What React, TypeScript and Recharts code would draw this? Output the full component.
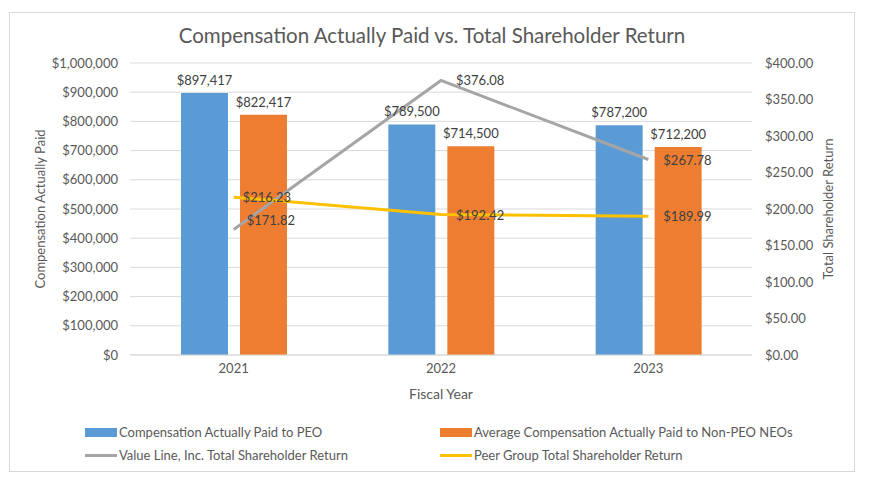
import React from "react";
import {
  ComposedChart,
  Bar,
  Line,
  XAxis,
  YAxis,
  CartesianGrid,
  Legend,
  LabelList,
} from "recharts";

const years = ["2021", "2022", "2023"];
const peoPaid = [897417, 789500, 787200];
const neoPaid = [822417, 714500, 712200];
const valueLineTsr = [171.82, 376.08, 267.78];
const peerTsr = [216.23, 192.42, 189.99];

const leftTicks = [0, 100000, 200000, 300000, 400000, 500000, 600000, 700000, 800000, 900000, 1000000];
const rightTicks = [0, 50, 100, 150, 200, 250, 300, 350, 400];

const data = years.map((y, i) => ({
  year: y,
  peo: peoPaid[i],
  neo: neoPaid[i],
  vl: valueLineTsr[i],
  peer: peerTsr[i],
}));

const FONT = "Lato, 'Liberation Sans', sans-serif";
const AXIS_TEXT = "#595959";
const LABEL_TEXT = "#404040";

const money = (v: number) => "$" + v.toLocaleString("en-US");
const money2 = (v: number) => "$" + v.toFixed(2);

const legendItems = [
  { name: "Compensation Actually Paid to PEO", color: "#5B9BD5", kind: "bar" },
  { name: "Average Compensation Actually Paid to Non-PEO NEOs", color: "#ED7D31", kind: "bar" },
  { name: "Value Line, Inc. Total Shareholder Return", color: "#A5A5A5", kind: "line" },
  { name: "Peer Group Total Shareholder Return", color: "#FFC000", kind: "line" },
];

function LegendBox() {
  return (
    <div style={{ position: "relative", width: 872, height: 50, fontFamily: FONT }}>
      {legendItems.map((it, i) => {
        const left = i % 2 === 0 ? 85 : 440;
        const top = i < 2 ? 0 : 23;
        return (
          <div
            key={it.name}
            style={{
              position: "absolute",
              left,
              top,
              height: 18,
              display: "flex",
              alignItems: "center",
              fontSize: 13,
              color: AXIS_TEXT,
              whiteSpace: "nowrap",
            }}
          >
            <span
              style={{
                display: "inline-block",
                width: 32,
                height: it.kind === "bar" ? 9 : 3,
                background: it.color,
                marginRight: 2,
              }}
            />
            {it.name}
          </div>
        );
      })}
    </div>
  );
}

// label placement tweaks to copy the Excel data labels (right of the point)
function makeLineLabel(dxs: number[], dys: number[]) {
  return (props: any) => {
    const { x, y, value, index } = props;
    return (
      <text
        x={x + (dxs[index] ?? 14)}
        y={y + (dys[index] ?? 0)}
        dy="0.35em"
        fill={LABEL_TEXT}
        fontSize={13}
        fontFamily={FONT}
      >
        {money2(value)}
      </text>
    );
  };
}

export default function App() {
  return (
    <div
      style={{
        position: "absolute",
        left: 0,
        top: 0,
        width: 872,
        height: 485,
        background: "#fff",
      }}
    >
      <div
        style={{
          position: "absolute",
          left: 9,
          top: 12,
          width: 846,
          height: 460,
          border: "1px solid #d9d9d9",
          boxSizing: "border-box",
        }}
      />
      <div
        style={{
          position: "absolute",
          left: 0,
          top: 23,
          width: 864,
          textAlign: "center",
          fontFamily: FONT,
          fontSize: 20.5,
          color: AXIS_TEXT,
        }}
      >
        Compensation Actually Paid vs. Total Shareholder Return
      </div>
      <ComposedChart
        width={872}
        height={485}
        data={data}
        margin={{ top: 63, right: 20, bottom: 86, left: 10 }}
        barGap={12}
        style={{ position: "absolute", left: 0, top: 0, fontFamily: FONT }}
      >
        <CartesianGrid vertical={false} stroke="#d9d9d9" yAxisId="l" />
        <XAxis
          dataKey="year"
          tickLine={false}
          axisLine={{ stroke: "#d9d9d9" }}
          tick={{ fill: AXIS_TEXT, fontSize: 13 }}
          tickSize={0}
          tickMargin={9}
          height={44}
          label={{
            value: "Fiscal Year",
            position: "insideBottom",
            offset: 0,
            fill: AXIS_TEXT,
            fontSize: 14,
          }}
        />
        <YAxis
          yAxisId="l"
          width={120}
          domain={[0, 1000000]}
          ticks={leftTicks}
          tickFormatter={money}
          axisLine={false}
          tickLine={false}
          tickSize={0}
          tickMargin={12}
          tick={{ fill: AXIS_TEXT, fontSize: 13 }}
          label={{
            value: "Compensation Actually Paid",
            angle: -90,
            position: "insideLeft",
            offset: 30,
            fill: AXIS_TEXT,
            fontSize: 13,
            style: { textAnchor: "middle" },
          }}
        />
        <YAxis
          yAxisId="r"
          orientation="right"
          width={100}
          domain={[0, 400]}
          ticks={rightTicks}
          tickFormatter={money2}
          axisLine={false}
          tickLine={false}
          tickSize={0}
          tickMargin={13}
          tick={{ fill: AXIS_TEXT, fontSize: 13, textAnchor: "start" }}
          label={{
            value: "Total Shareholder Return",
            angle: -90,
            position: "insideRight",
            offset: 24,
            fill: AXIS_TEXT,
            fontSize: 13,
            style: { textAnchor: "middle" },
          }}
        />
        <Bar yAxisId="l" dataKey="peo" fill="#5B9BD5" barSize={47} isAnimationActive={false}>
          <LabelList dataKey="peo" position="top" offset={8} formatter={money} fill={LABEL_TEXT} fontSize={13} />
        </Bar>
        <Bar yAxisId="l" dataKey="neo" fill="#ED7D31" barSize={47} isAnimationActive={false}>
          <LabelList dataKey="neo" position="top" offset={8} formatter={money} fill={LABEL_TEXT} fontSize={13} />
        </Bar>
        <Line
          yAxisId="r"
          dataKey="vl"
          stroke="#A5A5A5"
          strokeWidth={3}
          dot={false}
          isAnimationActive={false}
        >
          <LabelList dataKey="vl" content={makeLineLabel([13, 15, 15], [-9, 0, 1])} />
        </Line>
        <Line
          yAxisId="r"
          dataKey="peer"
          stroke="#FFC000"
          strokeWidth={3}
          dot={false}
          isAnimationActive={false}
        >
          <LabelList dataKey="peer" content={makeLineLabel([9, 15, 15], [0, 1, 0])} />
        </Line>
        <Legend
          verticalAlign="middle"
          align="center"
          wrapperStyle={{ top: 423, left: 0, width: 872 }}
          content={() => <LegendBox />}
        />
      </ComposedChart>
    </div>
  );
}
